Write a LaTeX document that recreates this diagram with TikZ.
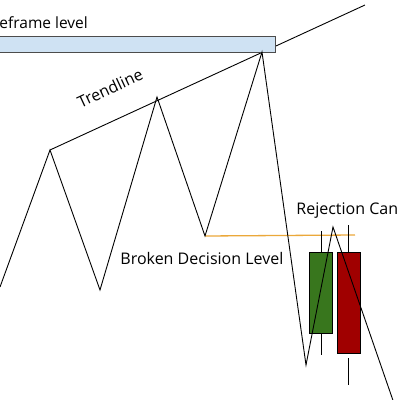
\documentclass[tikz,border=0pt]{standalone}
\usepackage{fontspec}
\setmainfont{Open Sans}
\usetikzlibrary{positioning}
\definecolor{levelblue}{HTML}{CFE2F3}
\definecolor{levelorange}{HTML}{EBA83A}
\definecolor{bullgreen}{HTML}{38761D}
\definecolor{bearred}{HTML}{A00000}

\begin{document}
\begin{tikzpicture}[x=1pt,y=-1pt,line width=0.9pt,
	lbl/.style={font=\fontsize{16}{19}\selectfont,inner sep=0pt},
	body/.style={draw=black,line width=0.7pt,anchor=north west,inner sep=0pt}]
\useasboundingbox (0,0) rectangle (400,400);

% swing points
\coordinate (s0) at (0,287);
\coordinate (h1) at (50,150);
\coordinate (l1) at (100,290);
\coordinate (h2) at (157,97);
\coordinate (l2) at (205,236);
\coordinate (h3) at (262,52);
\coordinate (l3) at (306,365);
\coordinate (h4) at (333,227);
\coordinate (s9) at (397,412);
\coordinate (tend) at (365,5);
\coordinate (dend) at (355,235);

% trendline under the level box
\draw (h1) -- (tend);
\node[draw=black!70,fill=levelblue,line width=0.8pt,anchor=north west,inner sep=0pt,
	minimum width=278pt,minimum height=16pt] (htf) at (-3,36) {};

\node[lbl,anchor=base west,font=\fontsize{15.5}{19}\selectfont] (htflbl) at (-1,28) {eframe level};
\node[lbl,rotate=25] (trendlbl) at (110,88) {Trendline};
\node[lbl,anchor=base west] (declbl) at (120,264) {Broken Decision Level};
\node[lbl,anchor=base west] (rejlbl) at (296,214) {Rejection Can};

% decision level
\draw[levelorange,line width=1.3pt] (l2) -- (dend);

% candles
\coordinate (gwtop) at (321,231);
\coordinate (gwbot) at (321,355);
\coordinate (rwtop) at (348,225);
\coordinate (rwbot) at (348,385);
\coordinate (rwgap) at (348,358);
\draw (gwtop) -- (gwbot);
\draw (rwtop) -- (348,300);
\draw (rwgap) -- (rwbot);
\node[body,fill=bullgreen,minimum width=23pt,minimum height=81pt] (green) at (309,252) {};
\node[body,fill=bearred,minimum width=23pt,minimum height=101pt] (red) at (337,252) {};

% price path
\draw (s0) -- (h1) -- (l1) -- (h2) -- (l2) -- (h3) -- (l3) -- (h4) -- (s9);
\end{tikzpicture}
\end{document}
